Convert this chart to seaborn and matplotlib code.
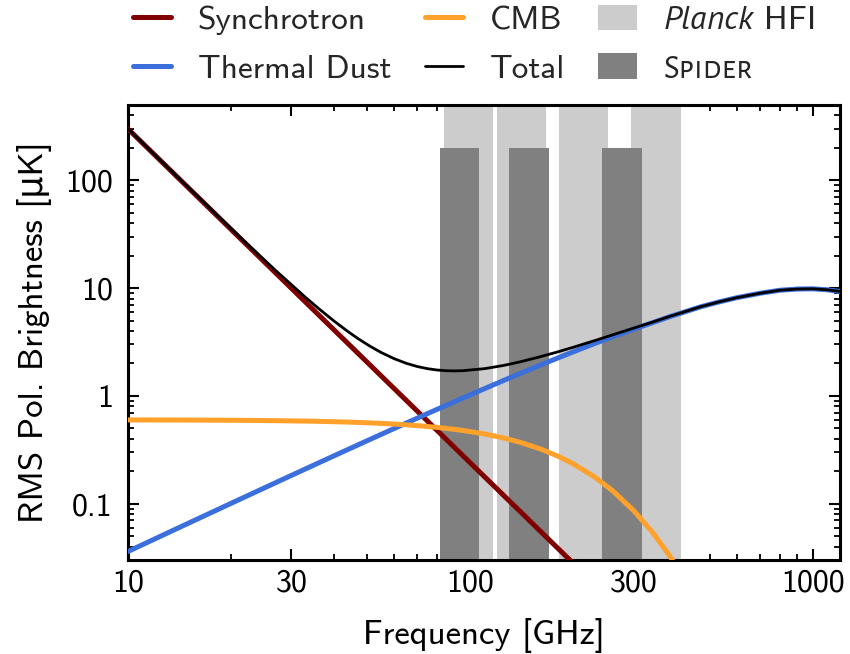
import matplotlib
matplotlib.use("Agg")
import matplotlib.pyplot as plt
import seaborn as sns
import pandas as pd
from matplotlib.lines import Line2D
from matplotlib.patches import Patch
from matplotlib.ticker import NullFormatter, FixedLocator

# ---- data ----
freq = [10, 12, 15, 18, 22, 27, 33, 36, 40, 44, 47, 51, 55, 60, 65, 70, 75,
        80, 85, 90, 95, 110, 125, 140, 160, 180, 200, 230, 260, 300, 340, 380,
        420, 470, 530, 600, 700, 800, 900, 1000, 1100, 1200]
synchrotron = [300.0, 170.5, 85.37, 48.50, 26.04, 13.80, 7.41, 5.658, 4.081,
               3.037, 2.476, 1.922, 1.520, 1.161, 0.906, 0.720, 0.5815, 0.4759,
               0.3945, 0.3304, 0.2794, 0.1773, 0.1193, 0.0840, 0.0555, 0.0385,
               0.0278, 0.0180, 0.0123, 0.00791, 0.00537, 0.00380, 0.00279,
               0.00197, 0.00135, 0.000922, 0.000572, 0.000378, 0.000262,
               0.000189, 0.000141, 0.000108]
cmb = [0.5985, 0.5978, 0.5965, 0.5950, 0.5926, 0.5888, 0.5834, 0.5803, 0.5758,
       0.5709, 0.5669, 0.5613, 0.5552, 0.5472, 0.5386, 0.5295, 0.5199, 0.5099,
       0.4995, 0.4888, 0.4777, 0.4430, 0.4068, 0.3702, 0.3220, 0.2760, 0.2335,
       0.1776, 0.1319, 0.0859, 0.0543, 0.03345, 0.02018, 0.01046, 0.004627,
       0.001728, 0.000404, 0.0000908, 0.0000198, 0.00000419, 0.00000087,
       0.00000018]
dust = [0.0360, 0.04722, 0.06576, 0.08614, 0.11586, 0.15662, 0.21016, 0.23863,
        0.2782, 0.31947, 0.35146, 0.39543, 0.44079, 0.49932, 0.55972, 0.62189,
        0.68567, 0.75092, 0.81756, 0.88551, 0.95465, 1.16846, 1.39031, 1.61852,
        1.93027, 2.24791, 2.56905, 3.05287, 3.53434, 4.16470, 4.77363, 5.40000,
        5.98000, 6.70000, 7.42000, 8.15000, 8.95000, 9.55000, 9.80000, 9.85000,
        9.65000, 9.32000]
total = [300.63, 171.15, 86.03, 49.18, 26.75, 14.55, 8.20, 6.477, 4.935, 3.927,
         3.394, 2.878, 2.516, 2.208, 2.004, 1.871, 1.787, 1.737, 1.712, 1.705,
         1.712, 1.789, 1.916, 2.073, 2.308, 2.562, 2.830, 3.249, 3.679, 4.259,
         4.833, 5.437, 6.003, 6.712, 7.426, 8.153, 8.951, 9.550, 9.800, 9.850,
         9.650, 9.320]

planck_lo = [83.5, 119.4, 181.2, 294.8]
planck_hi = [116.5, 166.6, 252.8, 411.2]
spider_lo = [81.6, 130.0, 242.0]
spider_hi = [106.2, 169.5, 316.6]
spider_top = 200

xticks = [10, 30, 100, 300, 1000]
xticklabels = ["10", "30", "100", "300", "1000"]
yticks = [0.1, 1, 10, 100]
yticklabels = ["0.1", "1", "10", "100"]

labels = ["Synchrotron", "Thermal Dust", "CMB", "Total",
          r"$\mathit{Planck}$ HFI", "Spider"]

# ---- style ----
sns.set_theme(style="ticks")
plt.rcParams["font.family"] = ["cmss10", "DejaVu Sans"]
plt.rcParams["mathtext.fontset"] = "custom"
plt.rcParams["mathtext.it"] = "PT Sans:italic"
plt.rcParams["mathtext.rm"] = "cmss10"
plt.rcParams["axes.unicode_minus"] = False

c_sync = "#800000"
c_dust = "#3b6fdc"
c_cmb = "#ffa12b"
c_tot = "#000000"
c_planck = "#cccccc"
c_spider = "#808080"

df = pd.DataFrame({"freq": freq, "sync": synchrotron, "cmb": cmb,
                   "dust": dust, "total": total})

fig = plt.figure(figsize=(8.5, 6.54), dpi=100)
ax = fig.add_axes([128 / 850, 1 - 560 / 654, 712 / 850, 455 / 654])
ax.set_xscale("log")
ax.set_yscale("log")

for lo, hi in zip(planck_lo, planck_hi):
    ax.axvspan(lo, hi, color=c_planck, lw=0, zorder=1)
for lo, hi in zip(spider_lo, spider_hi):
    ax.fill_between([lo, hi], [1e-4, 1e-4], [spider_top, spider_top],
                    color=c_spider, lw=0, zorder=2)

sns.lineplot(data=df, x="freq", y="sync", ax=ax, color=c_sync, lw=3.6, zorder=3)
sns.lineplot(data=df, x="freq", y="dust", ax=ax, color=c_dust, lw=3.6, zorder=3)
sns.lineplot(data=df, x="freq", y="cmb", ax=ax, color=c_cmb, lw=3.6, zorder=3)
sns.lineplot(data=df, x="freq", y="total", ax=ax, color=c_tot, lw=2.0, zorder=4)

ax.set_xlim(10, 1200)
ax.set_ylim(0.03, 500)

ax.xaxis.set_major_locator(FixedLocator(xticks))
ax.set_xticklabels(xticklabels)
ax.yaxis.set_major_locator(FixedLocator(yticks))
ax.set_yticklabels(yticklabels)
ax.xaxis.set_minor_formatter(NullFormatter())
ax.yaxis.set_minor_formatter(NullFormatter())

ax.tick_params(which="both", direction="in", top=True, right=True,
               labelsize=23, color="black", labelcolor="black")
ax.tick_params(which="major", length=8, width=1.5)
ax.tick_params(which="minor", length=4.2, width=1.3)
ax.tick_params(axis="x", which="major", pad=6)
ax.tick_params(axis="y", which="major", pad=11)
for s in ax.spines.values():
    s.set_linewidth(2.2)
    s.set_color("black")

ax.set_xlabel("Frequency [GHz]", fontsize=25, color="black", labelpad=15)
ax.set_ylabel("RMS Pol. Brightness [μK]", fontsize=25, color="black", labelpad=9)

handles = [Line2D([], [], color=c_sync, lw=3.6),
           Line2D([], [], color=c_dust, lw=3.6),
           Line2D([], [], color=c_cmb, lw=3.6),
           Line2D([], [], color=c_tot, lw=2.0),
           Patch(facecolor=c_planck, edgecolor="none"),
           Patch(facecolor=c_spider, edgecolor="none")]
leg = fig.legend(handles, labels, ncol=3, loc="upper left",
                 bbox_to_anchor=(133 / 850, 1 - 5 / 654), frameon=False,
                 fontsize=24, handlelength=1.15, handleheight=0.78,
                 handletextpad=0.8, columnspacing=1.0, labelspacing=0.55,
                 borderpad=0, borderaxespad=0)
leg.get_texts()[5].set_family("Alegreya Sans SC")

fig.savefig("out.png", dpi=100)
